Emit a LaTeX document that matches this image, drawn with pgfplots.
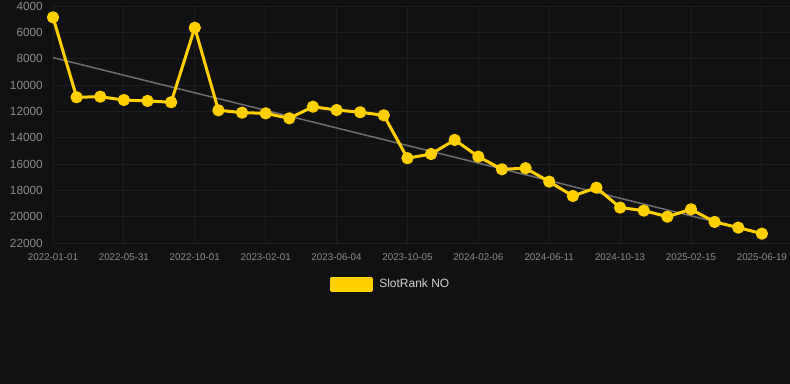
\documentclass[border=0pt]{standalone}
\usepackage{fontspec}
\setmainfont{Liberation Sans}
\usepackage{pgfplots}
\pgfplotsset{compat=1.18}
\definecolor{bg}{RGB}{17,17,17}
\definecolor{gridc}{RGB}{30,30,30}
\definecolor{ticklab}{RGB}{140,140,140}
\definecolor{slotyellow}{RGB}{255,208,0}
\definecolor{trendc}{RGB}{110,110,110}
\definecolor{legtext}{RGB}{210,210,210}
\begin{document}
\begin{tikzpicture}
\fill[bg] (0,0) rectangle (790bp,384bp);
\path[use as bounding box] (0,0) rectangle (790bp,384bp);
\begin{axis}[
  at={(53bp,141bp)}, anchor=south west,
  scale only axis, width=737bp, height=237bp,
  xmin=0, xmax=31.19,
  ymin=4000, ymax=22000, y dir=reverse,
  ytick={4000,6000,...,22000},
  scaled y ticks=false,
  xtick={0,3,...,30},
  xticklabels={2022-01-01,2022-05-31,2022-10-01,2023-02-01,2023-06-04,2023-10-05,2024-02-06,2024-06-11,2024-10-13,2025-02-15,2025-06-19},
  yticklabel style={/pgf/number format/1000 sep={}, /pgf/number format/fixed},
  /pgf/number format/1000 sep={},
  /pgf/number format/assume math mode=true,
  major tick length=0pt,
  axis line style={draw=none},
  grid=major,
  major grid style={gridc, line width=1bp},
  xticklabel style={font=\fontsize{9.8bp}{11bp}\selectfont, text=ticklab, inner sep=0pt, anchor=north, yshift=-10bp},
  yticklabel style={font=\fontsize{11.8bp}{13bp}\selectfont, text=ticklab, inner sep=0pt, anchor=east, xshift=-10bp},
  clip=false,
  legend style={at={(0.457,-0.173)}, anchor=center, fill=none, draw=none,
    text=legtext, font=\fontsize{12bp}{14bp}\selectfont,
    inner sep=0pt, legend cell align=left,
    nodes={inner sep=0pt}},
  legend image code/.code={\fill[slotyellow] (0bp,-6bp) rectangle (40bp,6bp); \path (46bp,0bp);},
]
\addplot[trendc, line width=1.5bp, forget plot] coordinates {(0,7920) (30,21270)};
\addplot[slotyellow, line width=3bp, line join=round, mark=*, mark size=4.6bp, mark options={fill=slotyellow, draw=none}] coordinates {
(0,4860) (1,10930) (2,10890) (3,11140) (4,11210) (5,11310) (6,5650) (7,11920) (8,12100) (9,12150)
(10,12530) (11,11650) (12,11900) (13,12070) (14,12300) (15,15560) (16,15240) (17,14170) (18,15440) (19,16400)
(20,16320) (21,17340) (22,18430) (23,17800) (24,19310) (25,19540) (26,20000) (27,19440) (28,20400) (29,20830) (30,21290)
};
\addlegendentry{SlotRank NO}
\end{axis}
\end{tikzpicture}
\end{document}
